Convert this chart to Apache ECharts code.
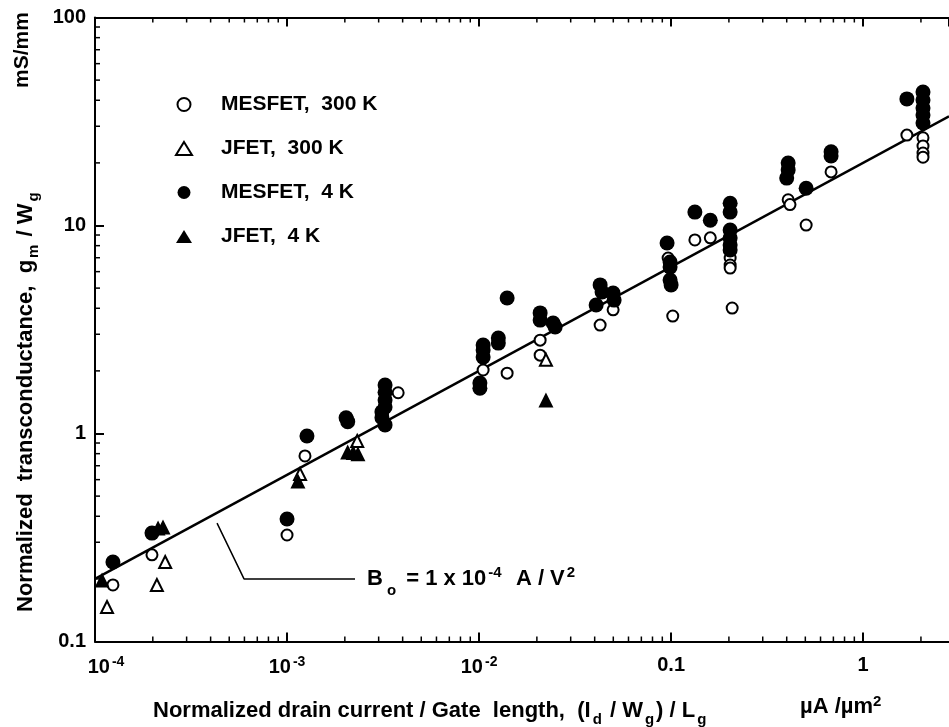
<!DOCTYPE html>
<html>
<head>
<meta charset="utf-8">
<script src="https://cdn.jsdelivr.net/npm/echarts@6/dist/echarts.min.js"></script>
<style>
  html, body { margin: 0; padding: 0; background: #fff; }
  #chart { width: 949px; height: 727px; }
</style>
</head>
<body>
<div id="chart"></div>
<script>
// Normalized transconductance vs normalized drain current per gate length
const FONT = '"Liberation Sans", Arial, Helvetica, sans-serif';

// MESFET, 300 K  [ (Id/Wg)/Lg  in uA/um^2 , gm/Wg in mS/mm ]
const mesfet300 = [
  [1.24e-4, 0.187], [1.98e-4, 0.261], [1.0e-3, 0.325], [1.24e-3, 0.78],
  [3.79e-3, 1.57], [1.05e-2, 2.02], [1.40e-2, 1.95], [2.08e-2, 2.81],
  [2.08e-2, 2.38], [4.27e-2, 3.32], [4.99e-2, 3.93], [9.65e-2, 6.98],
  [0.102, 3.67], [0.133, 8.52], [0.160, 8.72], [0.203, 6.98],
  [0.203, 6.46], [0.203, 6.24], [0.208, 4.01], [0.407, 13.3],
  [0.416, 12.6], [0.505, 10.05], [0.681, 18.1], [1.69, 27.2],
  [2.05, 26.4], [2.05, 24.1], [2.05, 22.3], [2.05, 21.3]
];

// JFET, 300 K
const jfet300 = [
  [1.155e-4, 0.1465], [2.32e-4, 0.241], [2.10e-4, 0.187],
  [1.169e-3, 0.638], [2.32e-3, 0.92], [2.23e-2, 2.26]
];

// MESFET, 4 K
const mesfet4 = [
  [1.24e-4, 0.241], [1.98e-4, 0.332], [1.0e-3, 0.388], [1.27e-3, 0.973],
  [2.03e-3, 1.19], [2.07e-3, 1.14],
  [3.24e-3, 1.71], [3.24e-3, 1.58], [3.24e-3, 1.45], [3.24e-3, 1.34],
  [3.12e-3, 1.27], [3.12e-3, 1.19], [3.24e-3, 1.10],
  [1.05e-2, 2.66], [1.05e-2, 2.52], [1.05e-2, 2.33], [1.01e-2, 1.75], [1.01e-2, 1.65],
  [1.26e-2, 2.88], [1.26e-2, 2.72], [1.40e-2, 4.48],
  [2.08e-2, 3.80], [2.08e-2, 3.51], [2.43e-2, 3.40], [2.49e-2, 3.25],
  [4.27e-2, 5.18], [4.37e-2, 4.79], [4.07e-2, 4.15], [4.99e-2, 4.74], [5.05e-2, 4.38],
  [9.53e-2, 8.24], [9.88e-2, 6.68], [9.88e-2, 6.31], [9.88e-2, 5.47], [0.1, 5.18],
  [0.133, 11.6], [0.160, 10.6],
  [0.203, 12.8], [0.203, 11.6], [0.203, 9.51], [0.203, 8.71], [0.203, 8.06], [0.203, 7.62],
  [0.407, 19.96], [0.407, 18.5], [0.40, 16.9], [0.505, 15.1],
  [0.681, 22.6], [0.681, 21.6], [1.69, 40.6],
  [2.05, 43.8], [2.05, 40.1], [2.05, 36.7], [2.05, 34.0], [2.05, 31.1]
];

// JFET, 4 K
const jfet4 = [
  [1.088e-4, 0.1975], [2.13e-4, 0.351], [2.26e-4, 0.355],
  [1.14e-3, 0.591], [2.07e-3, 0.815], [2.21e-3, 0.81], [2.34e-3, 0.80],
  [2.23e-2, 1.45]
];

// Square-law reference line, B_o = 1e-4 A/V^2
const fitLine = [[1e-4, 0.2], [2.8, 33.5]];

// Leader from the reference line to its caption
const leader = [[4.32e-4, 0.371], [5.97e-4, 0.2], [2.26e-3, 0.2]];

// Axis ranges and minor tick positions
const xRange = [1e-4, 2.8];
const yRange = [0.1, 100];
const xMinor = [
  2e-4, 3e-4, 4e-4, 5e-4, 6e-4, 7e-4, 8e-4, 9e-4,
  2e-3, 3e-3, 4e-3, 5e-3, 6e-3, 7e-3, 8e-3, 9e-3,
  2e-2, 3e-2, 4e-2, 5e-2, 6e-2, 7e-2, 8e-2, 9e-2,
  0.2, 0.3, 0.4, 0.5, 0.6, 0.7, 0.8, 0.9, 2
];
const yMinor = [
  0.2, 0.3, 0.4, 0.5, 0.6, 0.7, 0.8, 0.9,
  2, 3, 4, 5, 6, 7, 8, 9,
  20, 30, 40, 50, 60, 70, 80, 90
];

const legendNames = ['MESFET,  300 K', 'JFET,  300 K', 'MESFET,  4 K', 'JFET,  4 K'];

const chart = echarts.init(document.getElementById('chart'), null, { renderer: 'canvas' });

function xLabel(v) {
  const e = Math.round(Math.log10(v));
  if (Math.abs(Math.log10(v) - e) > 1e-6) return '';
  if (e === -4) return '{f|10}{s|' + e + '}';
  if (e <= -2) return '{n|10}{s|' + e + '}';
  if (e === -1) return '{n|0.1}';
  return '{n|' + Math.pow(10, e) + '}';
}
function yLabel(v) {
  const e = Math.round(Math.log10(v));
  if (e === -1) return '0.1';
  return String(Math.pow(10, e));
}

// minor ticks drawn through the axis scales
function minorTickSeries(values, side) {
  return {
    type: 'custom',
    silent: true,
    clip: false,
    z: 5,
    data: values.map(v => side === 'left' ? [xRange[0], v] : [v, side === 'top' ? yRange[1] : yRange[0]]),
    renderItem: function (params, api) {
      const p = api.coord([api.value(0), api.value(1)]);
      let x2 = p[0], y2 = p[1];
      if (side === 'bottom') y2 -= 5;
      else if (side === 'top') y2 += 5;
      else x2 += 5;
      return { type: 'line', shape: { x1: p[0], y1: p[1], x2: x2, y2: y2 },
               style: { stroke: '#000', lineWidth: 1.5 } };
    }
  };
}

const bold = (size) => ({ fontFamily: FONT, fontWeight: 'bold', fontSize: size, color: '#000' });
const boldFill = (size) => ({ fontFamily: FONT, fontWeight: 'bold', fontSize: size, fill: '#000' });

const option = {
  backgroundColor: '#fff',
  animation: false,
  textStyle: { fontFamily: FONT },
  grid: { left: 95, right: 0, top: 17.5, bottom: 85.5, containLabel: false },
  legend: {
    orient: 'vertical',
    left: 170,
    top: 89,
    itemGap: 23,
    itemWidth: 16,
    itemHeight: 13,
    data: legendNames,
    textStyle: Object.assign(bold(21), { padding: [0, 0, 0, 24] }),
    selectedMode: false
  },
  xAxis: [{
    type: 'log', logBase: 10, min: xRange[0], max: xRange[1], interval: 1,
    position: 'bottom',
    axisLine: { lineStyle: { color: '#000', width: 2 } },
    axisTick: { inside: true, length: 9, lineStyle: { color: '#000', width: 2 } },
    splitLine: { show: false },
    axisLabel: {
      showMaxLabel: false,
      margin: 14,
      formatter: xLabel,
      rich: {
        n: bold(20),
        f: Object.assign(bold(20), { padding: [0, 0, 0, 22] }),
        s: Object.assign(bold(14), { verticalAlign: 'top', padding: [0, 0, 10, 2] })
      }
    }
  }, {
    type: 'log', logBase: 10, min: xRange[0], max: xRange[1], interval: 1,
    position: 'top',
    axisLine: { lineStyle: { color: '#000', width: 2 } },
    axisTick: { inside: true, length: 9, lineStyle: { color: '#000', width: 2 } },
    axisLabel: { show: false },
    splitLine: { show: false }
  }],
  yAxis: {
    type: 'log', logBase: 10, min: yRange[0], max: yRange[1], interval: 1,
    axisLine: { lineStyle: { color: '#000', width: 2 } },
    axisTick: { inside: true, length: 9, lineStyle: { color: '#000', width: 2 } },
    splitLine: { show: false },
    axisLabel: Object.assign({ margin: 9, formatter: yLabel }, bold(20))
  },
  graphic: [
    {
      type: 'text', left: 153, top: 700,
      style: {
        text: '{t|Normalized drain current / Gate  length,  (I}{sb|d}{t| / W}{sb|g}{t|) / L}{sb|g}',
        rich: {
          t: boldFill(22),
          sb: Object.assign(boldFill(15), { padding: [18, 2, 0, 2] })
        }
      }
    },
    {
      type: 'text', left: 800, top: 694,
      style: {
        text: '{t|\u00b5A /\u00b5m}{sp|2}',
        rich: {
          t: boldFill(22),
          sp: Object.assign(boldFill(15), { padding: [0, 0, 11, 0] })
        }
      }
    },
    {
      type: 'text', x: 11, y: 612, rotation: Math.PI / 2,
      style: {
        text: '{t|Normalized  transconductance,  g}{sb|m}{t| / W}{sb|g}',
        rich: {
          t: boldFill(22),
          sb: Object.assign(boldFill(15), { padding: [15, 2, 0, 2] })
        }
      }
    },
    {
      type: 'text', x: 12, y: 88, rotation: Math.PI / 2,
      style: { text: 'mS/mm', font: 'bold 21px ' + FONT, fill: '#000' }
    }
  ],
  series: [
    {
      type: 'scatter', z: 10, name: legendNames[0], data: mesfet300,
      symbol: 'emptyCircle', symbolSize: 11,
      itemStyle: { color: '#000', borderColor: '#000', borderWidth: 2.5, opacity: 1 }
    },
    {
      type: 'scatter', z: 10, name: legendNames[1], data: jfet300,
      symbol: 'emptyTriangle', symbolSize: 12,
      itemStyle: { color: '#000', borderColor: '#000', borderWidth: 2.5, opacity: 1 }
    },
    {
      type: 'scatter', z: 11, name: legendNames[2], data: mesfet4,
      symbol: 'circle', symbolSize: 15,
      itemStyle: { color: '#000', opacity: 1 }
    },
    {
      type: 'scatter', z: 11, name: legendNames[3], data: jfet4,
      symbol: 'triangle', symbolSize: 15,
      itemStyle: { color: '#000', opacity: 1 }
    },
    {
      type: 'line', data: fitLine, symbol: 'none', z: 8,
      lineStyle: { color: '#000', width: 2.5 }, silent: true
    },
    {
      type: 'line', data: leader, symbol: 'none', z: 8,
      lineStyle: { color: '#000', width: 1.5 }, silent: true,
      endLabel: {
        show: true, distance: 12,
        formatter: '{t|B}{sb|o}{t| = 1 x 10}{sp|-4}{t|  A / V}{sp|2}',
        rich: {
          t: bold(22),
          sb: Object.assign(bold(15), { padding: [24, 4, 0, 4] }),
          sp: Object.assign(bold(15), { padding: [0, 2, 13, 2] })
        }
      }
    },
    minorTickSeries(xMinor, 'bottom'),
    minorTickSeries(xMinor, 'top'),
    minorTickSeries(yMinor, 'left')
  ]
};

chart.setOption(option);
</script>
</body>
</html>
